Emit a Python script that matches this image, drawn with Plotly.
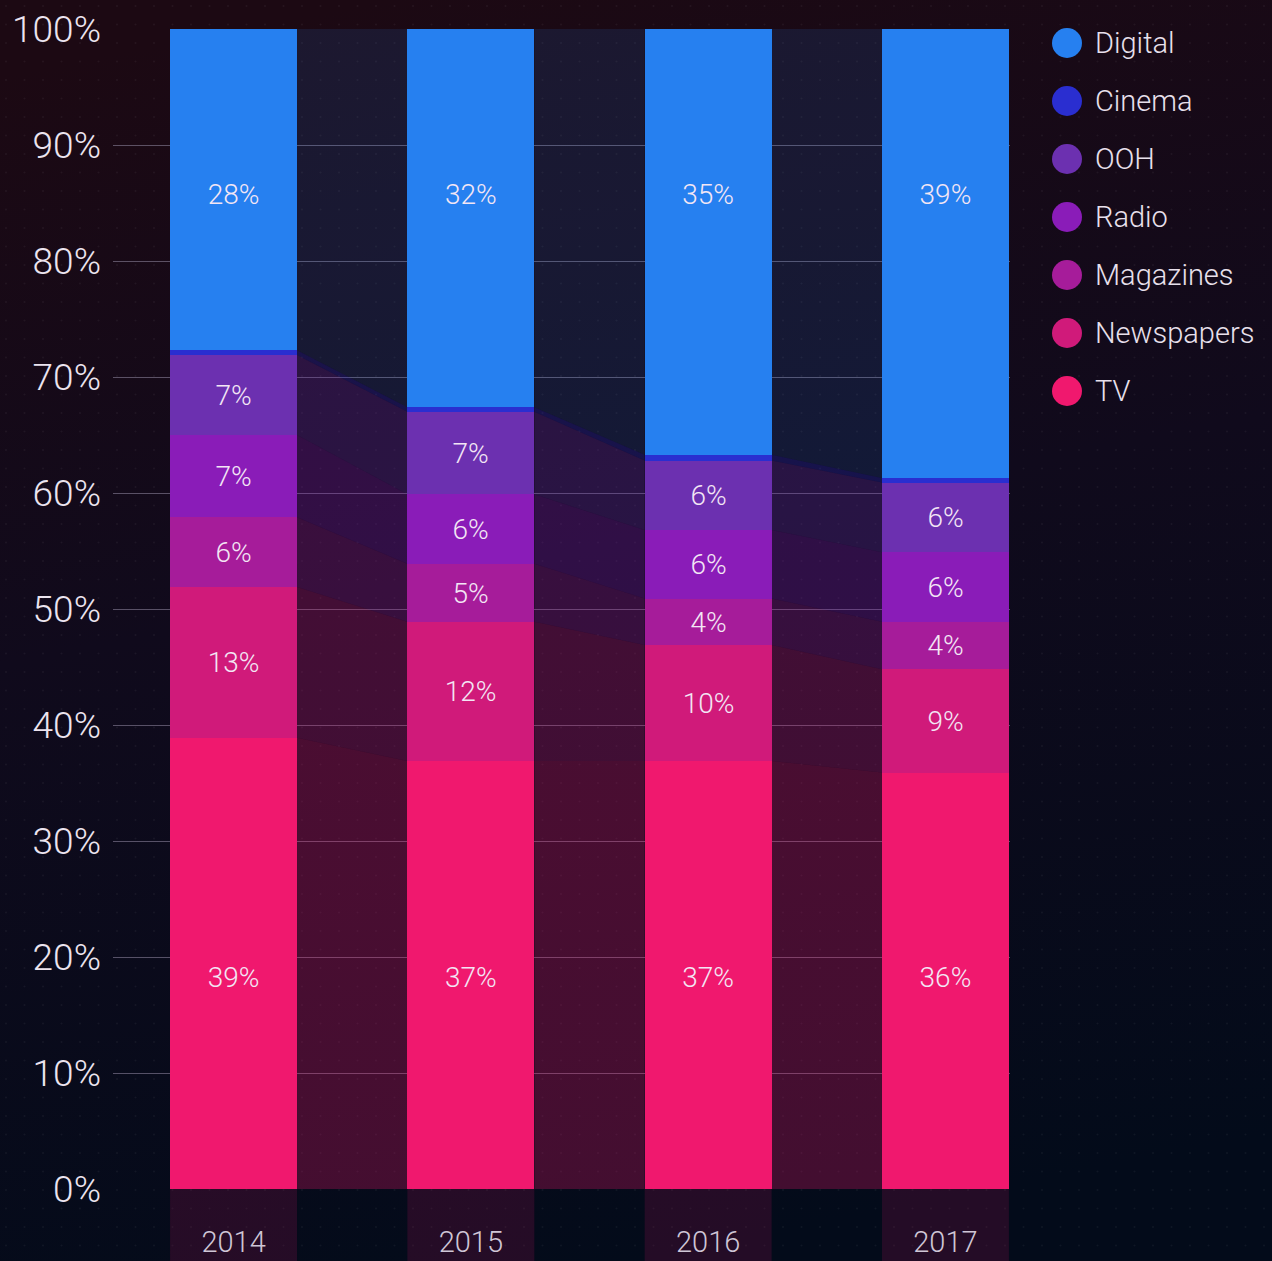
import base64
import plotly.graph_objects as go

# ---------------- data ----------------
years = ["2014", "2015", "2016", "2017"]
series_names = ["TV", "Newspapers", "Magazines", "Radio", "OOH", "Cinema", "Digital"]  # bottom -> top

tv = [38.9, 36.9, 36.9, 35.9]
newspapers = [13.0, 12.0, 10.0, 8.9]
magazines = [6.0, 5.0, 4.0, 4.1]
radio = [7.1, 6.0, 5.9, 6.0]
ooh = [6.9, 7.1, 6.0, 6.0]
cinema = [0.4, 0.4, 0.5, 0.4]
digital = [27.7, 32.6, 36.7, 38.7]

tv_labels = ["39%", "37%", "37%", "36%"]
newspapers_labels = ["13%", "12%", "10%", "9%"]
magazines_labels = ["6%", "5%", "4%", "4%"]
radio_labels = ["7%", "6%", "6%", "6%"]
ooh_labels = ["7%", "7%", "6%", "6%"]
cinema_labels = ["", "", "", ""]
digital_labels = ["28%", "32%", "35%", "39%"]

y_ticks = [0, 10, 20, 30, 40, 50, 60, 70, 80, 90, 100]
y_tick_labels = [f"{t}%" for t in y_ticks]

# ---------------- style ----------------
colors = {
    "TV": (240, 24, 110),
    "Newspapers": (208, 26, 122),
    "Magazines": (166, 28, 154),
    "Radio": (138, 28, 184),
    "OOH": (108, 48, 176),
    "Cinema": (42, 46, 208),
    "Digital": (38, 128, 240),
}
values = [tv, newspapers, magazines, radio, ooh, cinema, digital]
labels = [tv_labels, newspapers_labels, magazines_labels, radio_labels,
          ooh_labels, cinema_labels, digital_labels]
# series whose labels sit at a fixed height (value-axis units) instead of segment centre
fixed_label_y = {"TV": 18.0, "Digital": 85.5}

W, H = 1272, 1261
ML, MR, MT, MB = 113, 262, 29, 72
PW, PH = W - ML - MR, H - MT - MB
BAR_W = 0.535
FONT = "Roboto"
LABEL_FONT = dict(family=FONT, size=28, color="#f3e6f5", weight=300)

def rgb(c, a=1.0):
    return f"rgba({c[0]},{c[1]},{c[2]},{a})"

# background gradient + dots as svg image
dots = []
step = 18.5
yy = 6.0
while yy < H:
    xx = 6.0
    while xx < W:
        dots.append(f'<circle cx="{xx:.1f}" cy="{yy:.1f}" r="1.1"/>')
        xx += step
    yy += step
svg = f'''<svg xmlns="http://www.w3.org/2000/svg" width="{W}" height="{H}" viewBox="0 0 {W} {H}">
<defs><linearGradient id="g" x1="0.3" y1="0" x2="0.5" y2="1">
<stop offset="0" stop-color="#1c0913"/><stop offset="0.45" stop-color="#100a1c"/><stop offset="1" stop-color="#030b1a"/>
</linearGradient></defs>
<rect width="{W}" height="{H}" fill="url(#g)"/>
<g fill="#ffffff" fill-opacity="0.05">{''.join(dots)}</g>
</svg>'''
bg_src = "data:image/svg+xml;base64," + base64.b64encode(svg.encode()).decode()

fig = go.Figure()

# connectors between neighbouring bars
xidx = list(range(len(years)))
bottoms = []
cum = [0.0] * len(years)
for v in values:
    bottoms.append(cum[:])
    cum = [c + a for c, a in zip(cum, v)]

for name, v, b in zip(series_names, values, bottoms):
    alpha = 0.13 if name == "Digital" else 0.27
    for i in range(len(years) - 1):
        xr = xidx[i] + BAR_W / 2
        xl = xidx[i + 1] - BAR_W / 2
        px = [xr, xr, xl, xl, xr]
        py = [b[i], b[i] + v[i], b[i + 1] + v[i + 1], b[i + 1], b[i]]
        fig.add_trace(go.Scatter(
            x=px, y=py, mode="lines", fill="toself",
            fillcolor=rgb(colors[name], alpha), line=dict(width=0),
            hoverinfo="skip", showlegend=False,
        ))

# stacked bars
for name, v, lab in zip(series_names, values, labels):
    inside = name not in fixed_label_y
    fig.add_trace(go.Bar(
        x=xidx, y=v, name=name, width=BAR_W,
        marker=dict(color=rgb(colors[name]), line=dict(width=0)),
        text=lab if inside else None,
        textposition="inside" if inside else "none",
        insidetextanchor="middle", textangle=0, constraintext="none",
        textfont=LABEL_FONT, showlegend=False,
    ))

# labels of the TV and Digital segments at a fixed height
for name, lab in zip(series_names, labels):
    if name in fixed_label_y:
        fig.add_trace(go.Scatter(
            x=xidx, y=[fixed_label_y[name]] * len(xidx), mode="text",
            text=lab, textposition="middle center", textfont=LABEL_FONT,
            hoverinfo="skip", showlegend=False,
        ))

shapes = []
# columns continuing below the axis
for i in xidx:
    shapes.append(dict(
        type="rect", xref="x", yref="paper", layer="below",
        x0=i - BAR_W / 2, x1=i + BAR_W / 2, y0=-MB / PH, y1=0,
        fillcolor="rgba(240,24,110,0.14)", line=dict(width=0),
    ))

# custom legend (top series first)
annotations = []
for k, name in enumerate(reversed(series_names)):
    cy = 43 + 58 * k
    cx = 1067
    r = 15
    shapes.append(dict(
        type="circle", xref="paper", yref="paper",
        x0=(cx - r - ML) / PW, x1=(cx + r - ML) / PW,
        y0=(H - MB - (cy + r)) / PH, y1=(H - MB - (cy - r)) / PH,
        fillcolor=rgb(colors[name]), line=dict(width=0),
    ))
    annotations.append(dict(
        xref="paper", yref="paper", x=(1093 - ML) / PW, y=(H - MB - cy) / PH,
        text=name, showarrow=False, xanchor="left", yanchor="middle",
        font=dict(family=FONT, size=29, color="#e8e0ec", weight=300),
    ))

fig.update_layout(
    width=W, height=H,
    margin=dict(l=ML, r=MR, t=MT, b=MB, pad=0, autoexpand=False),
    paper_bgcolor="#0c0a16",
    plot_bgcolor="rgba(0,0,0,0)",
    barmode="stack",
    bargap=0,
    showlegend=False,
    shapes=shapes,
    annotations=annotations,
    images=[dict(
        source=bg_src, xref="paper", yref="paper",
        x=-ML / PW, y=1 + MT / PH, sizex=W / PW, sizey=H / PH,
        xanchor="left", yanchor="top", sizing="stretch", layer="below",
    )],
    xaxis=dict(
        range=[-0.508, 3.272], tickmode="array", tickvals=xidx, ticktext=years,
        showgrid=False, zeroline=False, showline=False, ticks="",
        tickfont=dict(family=FONT, size=29, color="#cfc6d6", weight=300),
        ticklabelstandoff=33, fixedrange=True, automargin=False,
    ),
    yaxis=dict(
        range=[0, 100], tickmode="array", tickvals=y_ticks, ticktext=y_tick_labels,
        showgrid=True, gridcolor="rgba(150,140,165,0.55)", gridwidth=1,
        zeroline=False, showline=False, ticks="",
        tickfont=dict(family=FONT, size=37, color="#ece4ef", weight=300),
        ticklabelstandoff=11, fixedrange=True, automargin=False,
    ),
    font=dict(family=FONT),
)

fig.write_html(
    "out.html",
    config={"displayModeBar": False},
    post_script="document.body.style.margin='0';document.body.style.background='#0c0a16';",
)
